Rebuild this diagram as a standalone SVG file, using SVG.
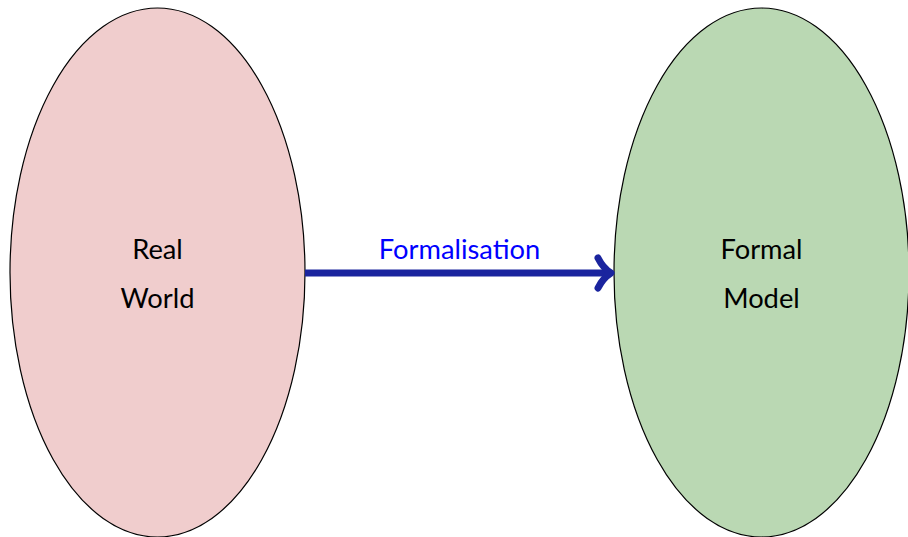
<svg xmlns="http://www.w3.org/2000/svg" width="908" height="537" viewBox="0 0 908 537">
  <style>
    .node { stroke: #000; stroke-width: 1.2; }
    .label { font-family: Lato, "Open Sans", sans-serif; font-size: 27.3px; text-anchor: middle; fill: #000; }
    .edge { stroke: #1a249e; stroke-width: 7; fill: none; stroke-linejoin: round; }
    .head { stroke-linecap: round; }
    .edge-label { font-family: Lato, "Open Sans", sans-serif; font-size: 27.3px; text-anchor: middle; fill: #0000ff; }
  </style>
  <rect width="908" height="537" fill="#fff"/>
  <g id="real-world">
    <ellipse class="node" cx="157.5" cy="272.5" rx="147.5" ry="264.5" fill="#f0cdcd"/>
    <text class="label" x="157.5" y="259">Real</text>
    <text class="label" x="157.5" y="308">World</text>
  </g>
  <g id="formal-model">
    <ellipse class="node" cx="761.5" cy="272.5" rx="147.5" ry="264.5" fill="#bad8b3"/>
    <text class="label" x="761.5" y="259">Formal</text>
    <text class="label" x="761.5" y="308">Model</text>
  </g>
  <g id="connectors">
    <path class="edge" d="M305,273 L609,273"/>
    <path class="edge head" d="M598,258 Q603,268 611,273 Q603,278 598,288"/>
    <text class="edge-label" x="459.5" y="259">Formalisation</text>
  </g>
</svg>
